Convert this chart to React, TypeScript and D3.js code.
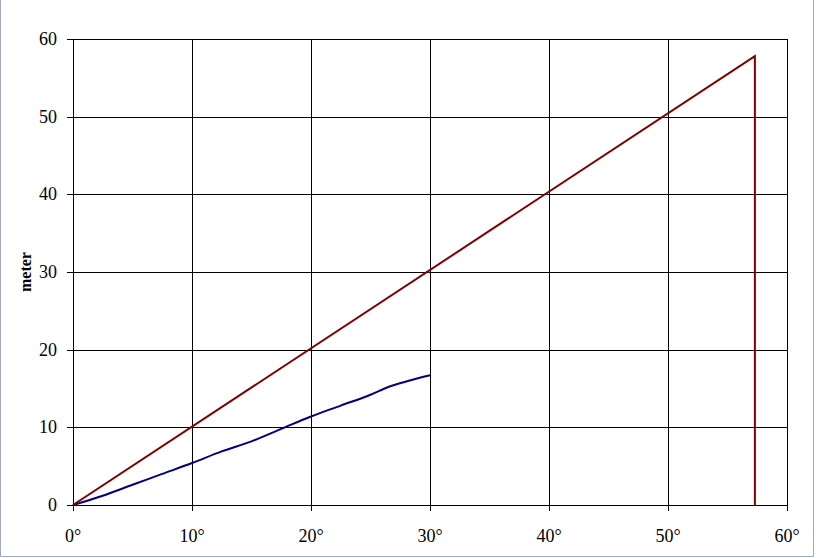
import React from "react";
import * as d3 from "d3";

const xTicks = [0, 10, 20, 30, 40, 50, 60];
const yTicks = [0, 10, 20, 30, 40, 50, 60];
const redX = [0, 57.3, 57.3];
const redY = [0, 57.8, 0];
const blueX = [0, 2.5, 5, 7.5, 10, 12.5, 15, 17.5, 20, 22.5, 25, 26.5, 28, 30];
const blueY = [0, 1.2, 2.6, 4.0, 5.4, 6.9, 8.2, 9.8, 11.4, 12.8, 14.2, 15.2, 15.9, 16.7];

const W = 816, H = 558;
const L = 73, R = 787, T = 39, B = 505;

export default function App() {
  const x = d3.scaleLinear().domain([0, 60]).range([L, R]);
  const y = d3.scaleLinear().domain([0, 60]).range([B, T]);
  const line = d3.line<[number, number]>().x(d => x(d[0])).y(d => y(d[1]));
  const curve = d3.line<[number, number]>().x(d => x(d[0])).y(d => y(d[1])).curve(d3.curveMonotoneX);
  const red = redX.map((v, i) => [v, redY[i]] as [number, number]);
  const blue = blueX.map((v, i) => [v, blueY[i]] as [number, number]);
  const fontStyle = { fontFamily: '"Liberation Serif", "Times New Roman", Times, serif' };
  return (
    <svg width={W} height={H} style={{ position: "fixed", left: 0, top: 0, background: "#fff" }}>
      <rect x={0} y={0} width={W} height={H} fill="#fff" />
      <path d={`M0.5,0 V${H - 1.5} H${W - 2.5} V0`} fill="none" stroke="#a3aabb" strokeWidth={1} />
      {xTicks.map(t => (
        <line key={"gx" + t} x1={Math.round(x(t)) + 0.5} x2={Math.round(x(t)) + 0.5} y1={T} y2={B + 6} stroke="#000" strokeWidth={1} />
      ))}
      {yTicks.map(t => (
        <line key={"gy" + t} x1={L - 6} x2={R} y1={Math.round(y(t)) + 0.5} y2={Math.round(y(t)) + 0.5} stroke="#000" strokeWidth={1} />
      ))}
      <path d={curve(blue) || ""} fill="none" stroke="#000080" strokeWidth={2} />
      <path d={line(red) || ""} fill="none" stroke="#800000" strokeWidth={2} />
      {yTicks.map(t => (
        <text key={"ly" + t} x={57} y={y(t) + 6} textAnchor="end" style={fontStyle} fontSize={18} fill="#000">{t}</text>
      ))}
      {xTicks.map(t => (
        <text key={"lx" + t} x={x(t)} y={542} textAnchor="middle" style={fontStyle} fontSize={18} fill="#000">{t + "°"}</text>
      ))}
      <text transform={`translate(31,${(T + B) / 2}) rotate(-90)`} textAnchor="middle" style={fontStyle} fontSize={16} fontWeight="bold" fill="#000">meter</text>
    </svg>
  );
}
